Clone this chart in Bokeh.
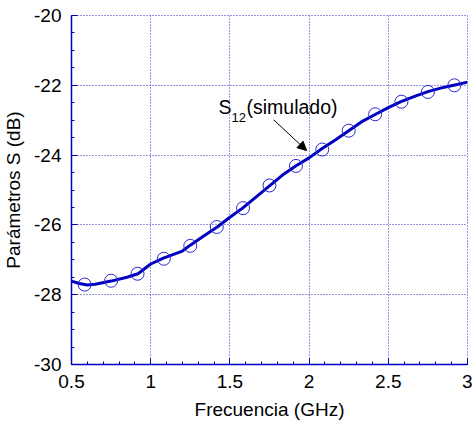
from bokeh.plotting import figure
from bokeh.models import Range1d, FixedTicker, Arrow, NormalHead
from bokeh.core.properties import value
from bokeh.embed import file_html
from bokeh.resources import INLINE

# simulated curve
freq_line = [0.5, 0.55, 0.6, 0.65, 0.75, 0.85, 0.92, 1.0, 1.08, 1.2, 1.25, 1.33,
             1.42, 1.5, 1.58, 1.67, 1.75, 1.83, 1.92, 2.0, 2.08, 2.17, 2.25, 2.33,
             2.42, 2.5, 2.58, 2.67, 2.75, 2.83, 2.92, 3.0]
s12_line = [-27.61, -27.68, -27.72, -27.70, -27.61, -27.50, -27.40, -27.12, -26.95,
            -26.75, -26.58, -26.33, -26.06, -25.78, -25.52, -25.18, -24.88, -24.58,
            -24.30, -24.08, -23.82, -23.55, -23.30, -23.05, -22.83, -22.64, -22.47,
            -22.31, -22.18, -22.08, -21.99, -21.91]

# circle markers
freq_pts = [0.583, 0.75, 0.917, 1.083, 1.25, 1.417, 1.583, 1.75, 1.917, 2.083,
            2.25, 2.417, 2.583, 2.75, 2.917]
s12_pts = [-27.71, -27.60, -27.40, -26.97, -26.60, -26.06, -25.52, -24.87, -24.31,
           -23.84, -23.30, -22.83, -22.47, -22.19, -22.00]

x_ticks = [0.5, 1, 1.5, 2, 2.5, 3]
x_labels = ["0.5", "1", "1.5", "2", "2.5", "3"]
y_ticks = [-30, -28, -26, -24, -22, -20]
y_labels = ["-30", "-28", "-26", "-24", "-22", "-20"]

FONT = "Liberation Sans"
BLUE = "#0000c0"
GRID = "#2a2ac8"

p = figure(width=472, height=422, output_backend="svg", toolbar_location=None,
           x_range=Range1d(0.5, 3), y_range=Range1d(-30, -20),
           min_border_left=0, min_border_right=5, min_border_top=15, min_border_bottom=0)

p.background_fill_color = "white"
p.border_fill_color = "white"
p.outline_line_color = GRID
p.outline_line_dash = "1 2"
p.outline_line_width = 1

p.xaxis.ticker = FixedTicker(ticks=x_ticks, minor_ticks=[0.5 + 0.1 * i for i in range(26)])
p.yaxis.ticker = FixedTicker(ticks=y_ticks, minor_ticks=[-30 + 0.5 * i for i in range(21)])
p.xaxis.major_label_overrides = dict(zip(x_ticks, x_labels))
p.yaxis.major_label_overrides = dict(zip(y_ticks, y_labels))

for ax in (p.xaxis, p.yaxis):
    ax.axis_line_color = BLUE
    ax.axis_line_width = 1.5
    ax.major_tick_line_color = BLUE
    ax.minor_tick_line_color = BLUE
    ax.major_tick_in = 6
    ax.major_tick_out = 0
    ax.minor_tick_in = 3
    ax.minor_tick_out = 0
    ax.major_label_text_font = FONT
    ax.major_label_text_font_size = "19px"
    ax.major_label_text_color = "black"
    ax.axis_label_text_font = FONT
    ax.axis_label_text_font_size = "19px"
    ax.axis_label_text_font_style = "normal"
    ax.axis_label_text_color = "black"
    ax.major_label_standoff = 10

p.xaxis.axis_label = "Frecuencia (GHz)"
p.yaxis.axis_label = "Parámetros S (dB)"
p.xaxis.axis_label_standoff = 8
p.yaxis.axis_label_standoff = 7

p.grid.grid_line_color = GRID
p.grid.grid_line_dash = "1 2"
p.grid.grid_line_width = 1

p.line(freq_line, s12_line, line_color=BLUE, line_width=3)
p.scatter(freq_pts, s12_pts, marker="circle", size=13, fill_color=None,
          line_color="#2a2ad0", line_width=1)

p.text(x=[1.428], y=[-22.62], text=["S"], text_font=value(FONT), text_font_size="19.5px",
       text_color="black", text_baseline="alphabetic", text_align="left")
p.text(x=[1.51], y=[-22.93], text=["12"], text_font=value(FONT), text_font_size="13px",
       text_color="black", text_baseline="alphabetic", text_align="left")
p.text(x=[1.605], y=[-22.62], text=["(simulado)"], text_font=value(FONT), text_font_size="19.5px",
       text_color="black", text_baseline="alphabetic", text_align="left")

p.add_layout(Arrow(end=NormalHead(size=9, fill_color="black", line_color="black"),
                   x_start=1.777, y_start=-22.99, x_end=1.984, y_end=-23.87,
                   line_color="black", line_width=1))

open("out.html", "w").write(file_html(p, INLINE))
